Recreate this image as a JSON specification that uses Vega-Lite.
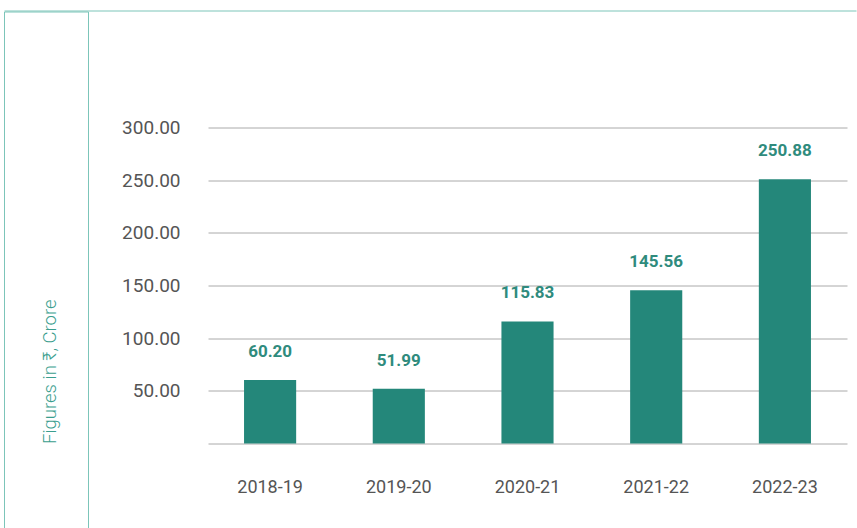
{
  "$schema": "https://vega.github.io/schema/vega-lite/v6.json",
  "padding": {"left": 3, "top": 9.5, "right": 0, "bottom": 0},
  "background": "white",
  "bounds": "flush",
  "spacing": 0,
  "config": {"view": {"stroke": null}, "font": "Roboto, 'Noto Sans', sans-serif"},
  "datasets": {
    "main": [
      {"year": "2018-19", "value": 60.20},
      {"year": "2019-20", "value": 51.99},
      {"year": "2020-21", "value": 115.83},
      {"year": "2021-22", "value": 145.56},
      {"year": "2022-23", "value": 250.88}
    ]
  },
  "vconcat": [
    {
      "width": 852,
      "height": 0.01,
      "data": {"values": [{}]},
      "mark": {"type": "text", "fontSize": 0},
      "encoding": {"text": {"value": ""}},
      "view": {"stroke": "#7cc5b9", "strokeDash": [852, 3000]}
    },
    {
      "bounds": "flush",
      "spacing": 120,
      "hconcat": [
        {
          "width": 84,
          "height": 517,
          "data": {"values": [{}]},
          "mark": {"type": "text", "fontSize": 0},
          "encoding": {"text": {"value": ""}},
          "view": {"stroke": "#7cc5b9", "strokeDash": [601, 84, 517]}
        },
        {
          "width": 639,
          "height": 432,
          "data": {"name": "main"},
          "encoding": {
            "x": {
              "field": "year",
              "type": "nominal",
              "sort": null,
              "scale": {"paddingInner": 0.595, "paddingOuter": 0.28},
              "axis": {
                "title": null,
                "labelAngle": 0,
                "domain": false,
                "ticks": false,
                "labelPadding": 35,
                "labelFontSize": 18,
                "labelColor": "#555555",
                "labelFont": "Roboto"
              }
            },
            "y": {
              "field": "value",
              "type": "quantitative",
              "scale": {"domain": [0, 410], "nice": false},
              "axis": {
                "values": [0, 50, 100, 150, 200, 250, 300],
                "format": ".2f",
                "labelExpr": "datum.value == 0 ? '' : datum.label",
                "grid": true,
                "gridColor": "#aaaaaa",
                "domain": false,
                "ticks": false,
                "labelPadding": 28,
                "labelFontSize": 19,
                "labelColor": "#555555",
                "labelFont": "Roboto",
                "title": "Figures in ₹, Crore",
                "titleFont": "Roboto, 'Noto Sans', sans-serif",
                "titleFontWeight": 300,
                "titleFontSize": 18.5,
                "titleColor": "#3a9e8e",
                "titleAngle": 270,
                "titleAlign": "left",
                "titleBaseline": "middle",
                "titleX": -159,
                "titleY": 432
              }
            }
          },
          "layer": [
            {"mark": {"type": "bar", "color": "#24877a"}},
            {
              "mark": {
                "type": "text",
                "dy": -28,
                "baseline": "middle",
                "fontWeight": "bold",
                "fontSize": 17,
                "color": "#2f8b7d",
                "font": "Roboto"
              },
              "encoding": {"text": {"field": "value", "type": "quantitative", "format": ".2f"}}
            }
          ]
        }
      ]
    }
  ]
}
